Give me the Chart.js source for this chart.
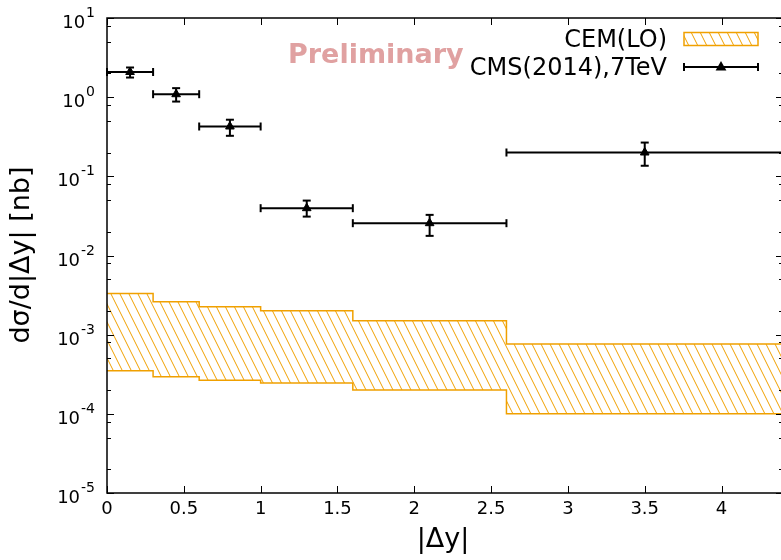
<!DOCTYPE html>
<html>
<head>
<meta charset="utf-8">
<script src="https://cdn.jsdelivr.net/npm/chart.js@4.4.1/dist/chart.umd.min.js"></script>
<style>
  html, body { margin: 0; padding: 0; background: #fff; overflow: hidden; }
  #wrap { width: 781px; height: 560px; overflow: hidden; }
</style>
</head>
<body>
<div id="wrap"><canvas id="dyChart" width="790" height="560"></canvas></div>
<script>
// |Δy| bin edges shared by the CEM band and the CMS points
var binEdges = [0, 0.3, 0.6, 1.0, 1.6, 2.6, 4.4];

// CEM (LO) uncertainty band, one value per bin
var cemUpper = [3.3e-3, 2.6e-3, 2.25e-3, 2.0e-3, 1.5e-3, 7.6e-4];
var cemLower = [3.5e-4, 2.95e-4, 2.65e-4, 2.45e-4, 2.0e-4, 1.0e-4];

// CMS 2014, 7 TeV measurement
var cmsX = [0.15, 0.45, 0.8, 1.3, 2.1, 3.5];
var cmsY = [2.08, 1.09, 0.426, 0.0396, 0.0256, 0.200];
var cmsYLow = [1.77, 0.88, 0.325, 0.031, 0.0177, 0.136];
var cmsYHigh = [2.37, 1.30, 0.519, 0.0494, 0.0326, 0.267];

var xTicks = [0, 0.5, 1, 1.5, 2, 2.5, 3, 3.5, 4];
var yExponents = [-5, -4, -3, -2, -1, 0, 1];
var yMinorMantissas = [2, 5, 8];

var ORANGE = "#f0a000";
var FONT = "DejaVu Sans";

Chart.defaults.font.family = FONT;
Chart.defaults.color = "#000";

// hatch tile for the band: thin lines running down to the right
function makeHatch() {
  var tile = document.createElement("canvas");
  tile.width = 9;
  tile.height = 18;
  var c = tile.getContext("2d");
  c.strokeStyle = ORANGE;
  c.lineWidth = 1;
  c.beginPath();
  c.moveTo(-1, -2);
  c.lineTo(10, 20);
  c.moveTo(-10, -2);
  c.lineTo(1, 20);
  c.moveTo(8, -2);
  c.lineTo(19, 20);
  c.stroke();
  return c.createPattern(tile, "repeat");
}
var hatch = makeHatch();

// one point per bin start plus the closing edge, for a step line
function stepPoints(values) {
  var pts = [];
  for (var i = 0; i < values.length; i++) {
    pts.push({ x: binEdges[i], y: values[i] });
  }
  pts.push({ x: binEdges[binEdges.length - 1], y: values[values.length - 1] });
  return pts;
}

var cmsPoints = cmsX.map(function (x, i) {
  return { x: x, y: cmsY[i] };
});

function drawCap(ctx, x, y, horizontal, half) {
  ctx.beginPath();
  if (horizontal) {
    ctx.moveTo(x - half, y);
    ctx.lineTo(x + half, y);
  } else {
    ctx.moveTo(x, y - half);
    ctx.lineTo(x, y + half);
  }
  ctx.stroke();
}

function drawTriangle(ctx, x, y, r) {
  ctx.beginPath();
  ctx.moveTo(x, y - r);
  ctx.lineTo(x + r * 0.9, y + r * 0.6);
  ctx.lineTo(x - r * 0.9, y + r * 0.6);
  ctx.closePath();
  ctx.fill();
}

var decorations = {
  id: "decorations",
  afterDatasetsDraw: function (chart) {
    var ctx = chart.ctx;
    var xs = chart.scales.x;
    var ys = chart.scales.y;
    ctx.save();
    ctx.strokeStyle = "#000";
    ctx.lineWidth = 2;
    for (var i = 0; i < cmsX.length; i++) {
      var px = xs.getPixelForValue(cmsX[i]);
      var py = ys.getPixelForValue(cmsY[i]);
      var x0 = xs.getPixelForValue(binEdges[i]);
      var x1 = xs.getPixelForValue(binEdges[i + 1]);
      var yLo = ys.getPixelForValue(cmsYLow[i]);
      var yHi = ys.getPixelForValue(cmsYHigh[i]);
      ctx.beginPath();
      ctx.moveTo(x0, py);
      ctx.lineTo(x1, py);
      ctx.moveTo(px, yLo);
      ctx.lineTo(px, yHi);
      ctx.stroke();
      drawCap(ctx, x0, py, false, 4);
      drawCap(ctx, x1, py, false, 4);
      drawCap(ctx, px, yLo, true, 4);
      drawCap(ctx, px, yHi, true, 4);
    }
    ctx.restore();
  },
  afterDraw: function (chart) {
    var ctx = chart.ctx;
    var a = chart.chartArea;
    var xs = chart.scales.x;
    var ys = chart.scales.y;
    ctx.save();

    // frame and inward ticks
    ctx.strokeStyle = "#000";
    ctx.lineWidth = 1.5;
    ctx.strokeRect(a.left, a.top, a.right - a.left, a.bottom - a.top);
    ctx.lineWidth = 1;
    ctx.beginPath();
    xTicks.forEach(function (v) {
      var x = Math.round(xs.getPixelForValue(v)) + 0.5;
      ctx.moveTo(x, a.bottom);
      ctx.lineTo(x, a.bottom - 7);
      ctx.moveTo(x, a.top);
      ctx.lineTo(x, a.top + 7);
    });
    yExponents.forEach(function (e) {
      var y = Math.round(ys.getPixelForValue(Math.pow(10, e))) + 0.5;
      ctx.moveTo(a.left, y);
      ctx.lineTo(a.left + 7, y);
      ctx.moveTo(a.right, y);
      ctx.lineTo(a.right - 7, y);
      if (e < 1) {
        yMinorMantissas.forEach(function (m) {
          var ym = Math.round(ys.getPixelForValue(m * Math.pow(10, e))) + 0.5;
          ctx.moveTo(a.left, ym);
          ctx.lineTo(a.left + 4, ym);
          ctx.moveTo(a.right, ym);
          ctx.lineTo(a.right - 4, ym);
        });
      }
    });
    ctx.stroke();

    // y tick labels as 10 with a raised exponent
    ctx.fillStyle = "#000";
    ctx.textAlign = "right";
    ctx.textBaseline = "alphabetic";
    yExponents.forEach(function (e) {
      var y = ys.getPixelForValue(Math.pow(10, e));
      var exp = String(e);
      ctx.font = "14px '" + FONT + "'";
      var w = ctx.measureText(exp).width;
      ctx.fillText(exp, 95, y - 1);
      ctx.font = "18px '" + FONT + "'";
      ctx.fillText("10", 95 - w - 1, y + 10);
    });

    // axis titles
    ctx.textAlign = "center";
    ctx.textBaseline = "middle";
    ctx.font = "27px '" + FONT + "'";
    ctx.fillText("|\u0394y|", 443, 540);
    ctx.save();
    ctx.translate(22, 255);
    ctx.rotate(-Math.PI / 2);
    ctx.fillText("d\u03c3/d|\u0394y| [nb]", 0, 0);
    ctx.restore();

    // watermark
    ctx.font = "bold 27px '" + FONT + "'";
    ctx.fillStyle = "rgba(214,130,130,0.75)";
    ctx.textAlign = "left";
    ctx.textBaseline = "alphabetic";
    ctx.fillText("Preliminary", 288, 63);

    // legend
    ctx.fillStyle = "#000";
    ctx.font = "24px '" + FONT + "'";
    ctx.textAlign = "right";
    ctx.fillText("CEM(LO)", 667, 47);
    ctx.fillText("CMS(2014),7TeV", 667, 75);

    ctx.fillStyle = hatch;
    ctx.fillRect(684, 32.5, 74, 13);
    ctx.strokeStyle = ORANGE;
    ctx.lineWidth = 1.5;
    ctx.strokeRect(684, 32.5, 74, 13);

    ctx.strokeStyle = "#000";
    ctx.fillStyle = "#000";
    ctx.lineWidth = 2;
    ctx.beginPath();
    ctx.moveTo(684, 67);
    ctx.lineTo(758, 67);
    ctx.stroke();
    drawCap(ctx, 684, 67, false, 4);
    drawCap(ctx, 758, 67, false, 4);
    drawTriangle(ctx, 721, 67, 6);

    ctx.restore();
  },
};

new Chart(document.getElementById("dyChart").getContext("2d"), {
  type: "scatter",
  data: {
    datasets: [
      {
        type: "line",
        label: "CEM(LO)",
        data: stepPoints(cemUpper),
        stepped: "before",
        borderColor: ORANGE,
        borderWidth: 1.5,
        backgroundColor: hatch,
        pointRadius: 0,
        fill: "+1",
      },
      {
        type: "line",
        label: "CEM(LO) lower",
        data: stepPoints(cemLower),
        stepped: "before",
        borderColor: ORANGE,
        borderWidth: 1.5,
        pointRadius: 0,
        fill: false,
      },
      {
        label: "CMS(2014),7TeV",
        data: cmsPoints,
        pointStyle: "triangle",
        pointRadius: 5,
        backgroundColor: "#000",
        borderColor: "#000",
        borderWidth: 1,
      },
    ],
  },
  options: {
    responsive: false,
    animation: false,
    devicePixelRatio: 1,
    layout: {
      padding: { left: 0, top: 18, right: 7, bottom: 0 },
    },
    plugins: {
      legend: { display: false },
      tooltip: { enabled: false },
    },
    scales: {
      x: {
        type: "linear",
        min: 0,
        max: 4.4,
        grid: { display: false, drawTicks: false },
        border: { display: false },
        afterBuildTicks: function (scale) {
          scale.ticks = xTicks.map(function (v) {
            return { value: v };
          });
        },
        afterFit: function (scale) {
          scale.height = 67;
        },
        ticks: {
          padding: 6,
          autoSkip: false,
          maxRotation: 0,
          font: { size: 18 },
          color: "#000",
          callback: function (value) {
            return String(value);
          },
        },
      },
      y: {
        type: "logarithmic",
        min: 1e-5,
        max: 10,
        grid: { display: false, drawTicks: false },
        border: { display: false },
        ticks: { display: false },
        afterFit: function (scale) {
          scale.width = 107;
        },
      },
    },
  },
  plugins: [decorations],
});
</script>
</body>
</html>
